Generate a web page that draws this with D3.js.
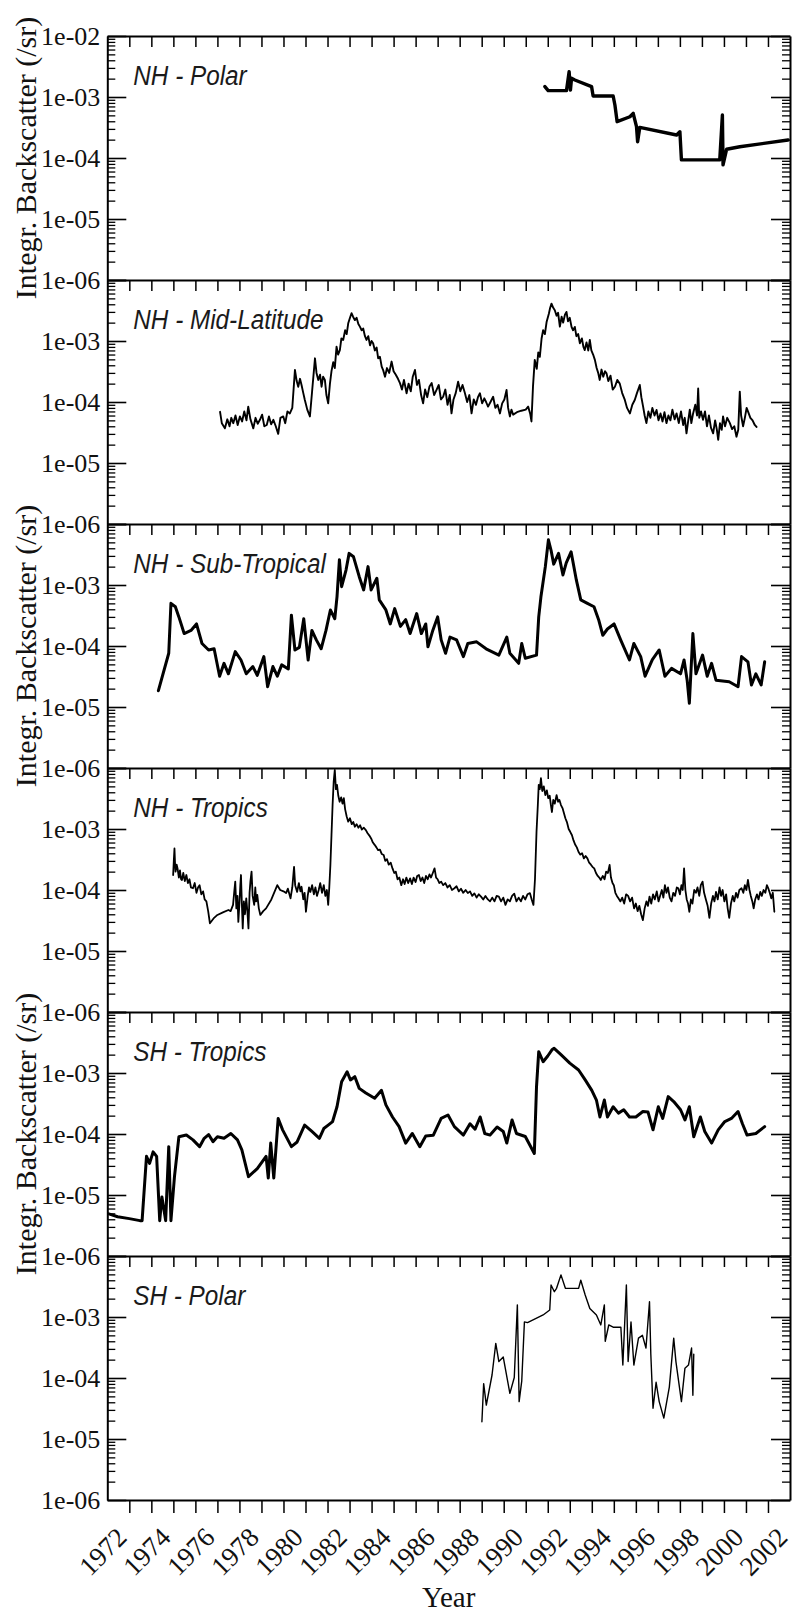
<!DOCTYPE html>
<html>
<head>
<meta charset="utf-8">
<script src="https://cdn.jsdelivr.net/npm/d3@7"></script>
<style>
  body { margin: 0; background: #ffffff; }
  svg { display: block; }
</style>
</head>
<body>
<svg id="chart" width="794" height="1612"></svg>
<script>
// ---- Axis definitions -------------------------------------------------------
const yearTicks = d3.range(1972, 2002);          // one tick per year
const yearLabels = d3.range(1972, 2003, 2);      // labelled every two years
const decadeTicks = [1e-6, 1e-5, 1e-4, 1e-3, 1e-2];
const panelNames = ["NH - Polar", "NH - Mid-Latitude", "NH - Sub-Tropical",
                    "NH - Tropics", "SH - Tropics", "SH - Polar"];
const yTitle = "Integr. Backscatter (/sr)";
const xTitle = "Year";

// ---- Series: [decimal year, integrated backscatter (/sr)] -------------------
const nhPolar = [[1990.87,1.48e-3],[1991.02,1.27e-3],[1991.85,1.27e-3],[1991.97,2.6e-3],[1992.03,1.3e-3],[1992.08,2.03e-3],[1992.23,1.9e-3],[1992.99,1.48e-3],[1993.06,1.04e-3],[1993.97,1.04e-3],[1994.05,7.4e-4],[1994.15,3.94e-4],[1994.73,4.75e-4],[1994.88,5.4e-4],[1995.03,3.26e-4],[1995.08,1.85e-4],[1995.18,3.18e-4],[1996.85,2.38e-4],[1997.0,2.7e-4],[1997.07,9.3e-5],[1998.81,9.3e-5],[1998.93,5.07e-4],[1998.96,7.7e-5],[1999.12,1.39e-4],[1999.72,1.53e-4],[2001.91,1.97e-4]];

const nhMidLatitude = [[1976.12,6.9e-5],[1976.2,4.5e-5],[1976.34,3.7e-5],[1976.45,5.2e-5],[1976.55,4.0e-5],[1976.63,5.5e-5],[1976.72,4.5e-5],[1976.82,6.0e-5],[1976.92,4.2e-5],[1977.02,5.8e-5],[1977.12,4.8e-5],[1977.22,7.0e-5],[1977.32,5.0e-5],[1977.40,8.4e-5],[1977.5,5.2e-5],[1977.63,3.7e-5],[1977.73,5.5e-5],[1977.83,4.4e-5],[1977.93,5.1e-5],[1978.03,6.2e-5],[1978.13,4.0e-5],[1978.24,4.2e-5],[1978.34,5.8e-5],[1978.44,4.3e-5],[1978.54,5.1e-5],[1978.65,4.0e-5],[1978.76,3.0e-5],[1978.86,5.5e-5],[1978.99,5.8e-5],[1979.08,4.5e-5],[1979.18,7.0e-5],[1979.29,6.5e-5],[1979.40,8.0e-5],[1979.52,3.35e-4],[1979.6,2.2e-4],[1979.67,1.78e-4],[1979.75,2.4e-4],[1979.82,1.9e-4],[1979.9,1.4e-4],[1979.97,1.08e-4],[1980.08,7.5e-5],[1980.20,5.8e-5],[1980.3,1.5e-4],[1980.43,5.2e-4],[1980.5,3.0e-4],[1980.58,2.3e-4],[1980.66,2.8e-4],[1980.73,1.78e-4],[1980.8,2.6e-4],[1980.88,2.3e-4],[1980.95,1.3e-4],[1981.03,9.5e-5],[1981.11,2.0e-4],[1981.18,3.2e-4],[1981.26,4.5e-4],[1981.33,3.6e-4],[1981.41,8.1e-4],[1981.48,6.0e-4],[1981.56,7.1e-4],[1981.63,1.1e-3],[1981.71,1.04e-3],[1981.8,1.5e-3],[1981.87,1.3e-3],[1981.94,1.95e-3],[1982.02,2.4e-3],[1982.09,2.85e-3],[1982.16,2.5e-3],[1982.24,2.2e-3],[1982.32,2.4e-3],[1982.4,1.9e-3],[1982.47,1.72e-3],[1982.55,1.5e-3],[1982.62,1.6e-3],[1982.7,1.2e-3],[1982.77,1.04e-3],[1982.85,1.2e-3],[1982.93,8.5e-4],[1983.0,1.0e-3],[1983.07,9.2e-4],[1983.15,7.0e-4],[1983.23,7.8e-4],[1983.3,5.2e-4],[1983.38,5.5e-4],[1983.46,3.8e-4],[1983.53,3.3e-4],[1983.61,2.6e-4],[1983.7,3.6e-4],[1983.8,3.0e-4],[1983.91,4.6e-4],[1984.0,3.2e-4],[1984.1,2.8e-4],[1984.2,2.4e-4],[1984.29,2.04e-4],[1984.38,1.6e-4],[1984.47,2.3e-4],[1984.59,1.39e-4],[1984.68,2.0e-4],[1984.78,1.5e-4],[1984.87,2.6e-4],[1984.97,3.35e-4],[1985.06,1.9e-4],[1985.15,2.3e-4],[1985.25,1.3e-4],[1985.34,9.5e-5],[1985.43,1.6e-4],[1985.53,1.2e-4],[1985.63,1.8e-4],[1985.73,2.04e-4],[1985.84,1.3e-4],[1985.95,1.58e-4],[1986.05,1.9e-4],[1986.15,1.1e-4],[1986.25,1.22e-4],[1986.35,1.6e-4],[1986.45,9.0e-5],[1986.55,1.3e-4],[1986.63,6.5e-5],[1986.72,1.1e-4],[1986.82,1.4e-4],[1986.93,2.15e-4],[1987.03,1.5e-4],[1987.13,1.9e-4],[1987.24,1.39e-4],[1987.34,1.0e-4],[1987.44,1.3e-4],[1987.54,6.5e-5],[1987.64,1.1e-4],[1987.74,9.0e-5],[1987.83,1.2e-4],[1987.92,1.39e-4],[1988.02,9.5e-5],[1988.12,1.15e-4],[1988.2,1.0e-4],[1988.29,8.4e-5],[1988.4,1.0e-4],[1988.52,1.22e-4],[1988.62,8.0e-5],[1988.72,9.0e-5],[1988.83,6.5e-5],[1988.93,9.5e-5],[1989.03,1.1e-4],[1989.13,1.57e-4],[1989.2,8.0e-5],[1989.28,5.8e-5],[1989.35,7.5e-5],[1989.43,6.2e-5],[1989.6,6.8e-5],[1989.8,7.2e-5],[1990.0,7.5e-5],[1990.11,8.4e-5],[1990.2,6.5e-5],[1990.26,4.8e-5],[1990.33,1.8e-4],[1990.41,4.9e-4],[1990.5,3.5e-4],[1990.57,6.5e-4],[1990.64,5.5e-4],[1990.72,1.1e-3],[1990.79,1.5e-3],[1990.87,1.3e-3],[1990.95,2.07e-3],[1991.05,2.8e-3],[1991.1,3.4e-3],[1991.17,4.1e-3],[1991.25,3.5e-3],[1991.32,3.2e-3],[1991.4,2.6e-3],[1991.47,2.9e-3],[1991.55,1.72e-3],[1991.63,2.5e-3],[1991.7,2.0e-3],[1991.78,2.7e-3],[1991.85,3.0e-3],[1991.92,2.1e-3],[1992.0,2.4e-3],[1992.08,1.7e-3],[1992.15,1.5e-3],[1992.23,1.7e-3],[1992.3,1.2e-3],[1992.38,1.3e-3],[1992.46,9.2e-4],[1992.55,1.1e-3],[1992.62,8.0e-4],[1992.68,7.1e-4],[1992.76,9.5e-4],[1992.84,7.0e-4],[1992.91,1.04e-3],[1992.98,7.0e-4],[1993.06,6.0e-4],[1993.14,4.9e-4],[1993.22,3.6e-4],[1993.29,3.0e-4],[1993.36,2.3e-4],[1993.44,3.4e-4],[1993.52,2.6e-4],[1993.6,3.2e-4],[1993.67,2.95e-4],[1993.75,2.2e-4],[1993.85,2.7e-4],[1993.95,1.6e-4],[1994.05,1.78e-4],[1994.16,2.3e-4],[1994.27,2.0e-4],[1994.38,1.4e-4],[1994.5,1.08e-4],[1994.6,8.0e-5],[1994.73,6.5e-5],[1994.84,9.0e-5],[1994.95,1.08e-4],[1995.05,1.4e-4],[1995.18,1.9e-4],[1995.25,1.2e-4],[1995.33,8.4e-5],[1995.4,6.0e-5],[1995.48,4.5e-5],[1995.57,7.0e-5],[1995.66,5.5e-5],[1995.75,8.0e-5],[1995.85,6.0e-5],[1995.94,7.4e-5],[1996.03,5.0e-5],[1996.12,6.5e-5],[1996.21,4.8e-5],[1996.3,6.8e-5],[1996.39,4.5e-5],[1996.48,6.0e-5],[1996.57,5.0e-5],[1996.66,7.5e-5],[1996.76,5.2e-5],[1996.85,6.5e-5],[1996.95,4.5e-5],[1997.05,7.0e-5],[1997.15,4.2e-5],[1997.22,5.5e-5],[1997.30,3.06e-5],[1997.38,5.0e-5],[1997.45,7.5e-5],[1997.52,4.5e-5],[1997.6,6.5e-5],[1997.7,9.0e-5],[1997.78,6.0e-5],[1997.83,1.67e-4],[1997.88,5.5e-5],[1997.96,7.0e-5],[1998.05,5.1e-5],[1998.14,7.0e-5],[1998.23,4.0e-5],[1998.32,6.0e-5],[1998.41,3.8e-5],[1998.51,3.06e-5],[1998.6,5.0e-5],[1998.68,3.5e-5],[1998.74,2.4e-5],[1998.82,4.5e-5],[1998.9,3.5e-5],[1998.96,5.8e-5],[1999.05,4.0e-5],[1999.15,5.5e-5],[1999.27,4.5e-5],[1999.37,3.6e-5],[1999.47,4.0e-5],[1999.57,2.7e-5],[1999.65,3.5e-5],[1999.72,1.48e-4],[1999.78,6.0e-5],[1999.87,4.0e-5],[1999.95,5.5e-5],[2000.03,8.0e-5],[2000.10,6.9e-5],[2000.2,5.5e-5],[2000.3,5.0e-5],[2000.4,4.2e-5],[2000.48,3.9e-5]];

const nhSubTropical = [[1973.32,1.85e-5],[1973.79,7.6e-5],[1973.89,5.0e-4],[1974.09,4.4e-4],[1974.25,3.0e-4],[1974.49,1.6e-4],[1974.80,1.8e-4],[1975.05,2.3e-4],[1975.30,1.1e-4],[1975.60,8.6e-5],[1975.85,9.0e-5],[1976.10,3.2e-5],[1976.30,5.2e-5],[1976.50,3.5e-5],[1976.81,8.1e-5],[1977.07,5.9e-5],[1977.31,3.5e-5],[1977.61,4.6e-5],[1977.81,3.3e-5],[1978.11,6.7e-5],[1978.28,2.15e-5],[1978.52,4.6e-5],[1978.72,3.2e-5],[1978.92,4.9e-5],[1979.22,4.2e-5],[1979.36,3.2e-4],[1979.52,8.6e-5],[1979.72,9.5e-5],[1979.92,2.8e-4],[1980.12,5.9e-5],[1980.29,1.8e-4],[1980.49,1.26e-4],[1980.71,9.0e-5],[1980.93,1.8e-4],[1981.13,3.9e-4],[1981.33,2.8e-4],[1981.43,6.4e-4],[1981.54,2.6e-3],[1981.64,9.4e-4],[1981.84,1.76e-3],[1981.98,3.3e-3],[1982.18,2.9e-3],[1982.44,1.37e-3],[1982.64,8.3e-4],[1982.84,2.0e-3],[1982.98,8.3e-4],[1983.24,1.29e-3],[1983.35,5.7e-4],[1983.65,3.9e-4],[1983.85,2.3e-4],[1984.05,4.1e-4],[1984.31,2.1e-4],[1984.55,2.7e-4],[1984.75,1.6e-4],[1985.05,3.4e-4],[1985.26,1.6e-4],[1985.46,2.3e-4],[1985.56,9.7e-5],[1985.78,1.8e-4],[1986.00,3.0e-4],[1986.16,1.26e-4],[1986.36,7.6e-5],[1986.56,1.4e-4],[1986.86,1.26e-4],[1987.17,6.7e-5],[1987.37,1.1e-4],[1987.77,1.17e-4],[1988.20,9.0e-5],[1988.78,7.1e-5],[1989.14,1.4e-4],[1989.28,7.6e-5],[1989.68,5.2e-5],[1989.82,1.1e-4],[1989.98,6.3e-5],[1990.49,7.1e-5],[1990.59,3.0e-4],[1990.69,6.4e-4],[1990.89,2.0e-3],[1991.03,5.5e-3],[1991.15,3.7e-3],[1991.27,2.2e-3],[1991.49,3.3e-3],[1991.69,1.46e-3],[1991.84,2.3e-3],[1992.06,3.5e-3],[1992.30,1.2e-3],[1992.50,5.7e-4],[1992.80,5.0e-4],[1993.10,4.4e-4],[1993.31,2.7e-4],[1993.50,1.5e-4],[1993.71,1.9e-4],[1994.01,2.3e-4],[1994.31,1.26e-4],[1994.71,5.9e-5],[1994.91,1.1e-4],[1995.22,6.7e-5],[1995.42,3.2e-5],[1995.75,6.0e-5],[1996.06,8.6e-5],[1996.32,3.2e-5],[1996.62,4.3e-5],[1997.03,3.5e-5],[1997.19,5.9e-5],[1997.33,2.75e-5],[1997.43,1.15e-5],[1997.59,1.6e-4],[1997.73,3.5e-5],[1998.03,7.1e-5],[1998.24,3.2e-5],[1998.44,5.2e-5],[1998.64,2.75e-5],[1999.24,2.6e-5],[1999.64,2.15e-5],[1999.80,6.7e-5],[2000.09,5.5e-5],[2000.25,2.3e-5],[2000.45,3.5e-5],[2000.69,2.3e-5],[2000.85,5.5e-5]];

const nhTropics = [[1973.99,1.76e-4],[1974.02,3.0e-4],[1974.05,4.8e-4],[1974.08,2.5e-4],[1974.10,2.0e-4],[1974.15,2.6e-4],[1974.19,2.26e-4],[1974.25,1.6e-4],[1974.3,2.1e-4],[1974.35,1.5e-4],[1974.39,1.46e-4],[1974.45,1.9e-4],[1974.52,1.4e-4],[1974.59,1.76e-4],[1974.66,1.3e-4],[1974.73,1.5e-4],[1974.8,1.1e-4],[1974.89,1.07e-4],[1974.97,1.3e-4],[1975.05,9.0e-5],[1975.12,1.1e-4],[1975.19,1.2e-4],[1975.27,8.5e-5],[1975.35,9.5e-5],[1975.42,7.0e-5],[1975.50,6.5e-5],[1975.58,4.5e-5],[1975.66,2.85e-5],[1975.85,3.5e-5],[1976.00,3.9e-5],[1976.25,4.3e-5],[1976.50,4.7e-5],[1976.6,4.5e-5],[1976.71,5.7e-5],[1976.76,9.0e-5],[1976.81,1.37e-4],[1976.86,5.0e-5],[1976.91,8.0e-5],[1976.95,3.0e-5],[1977.0,6.0e-5],[1977.04,1.2e-4],[1977.07,1.76e-4],[1977.11,6.0e-5],[1977.15,2.35e-5],[1977.2,6.5e-5],[1977.25,4.0e-5],[1977.31,7.3e-5],[1977.36,4.5e-5],[1977.41,2.35e-5],[1977.46,9.0e-5],[1977.5,1.4e-4],[1977.55,2.0e-4],[1977.6,8.0e-5],[1977.67,5.7e-5],[1977.72,1.1e-4],[1977.76,6.5e-5],[1977.81,8.3e-5],[1977.88,5.0e-5],[1977.95,3.9e-5],[1978.08,4.5e-5],[1978.21,5.0e-5],[1978.45,7.0e-5],[1978.72,1.2e-4],[1978.85,1.0e-4],[1979.0,9.5e-5],[1979.12,8.9e-5],[1979.2,1.05e-4],[1979.32,7.3e-5],[1979.4,1.1e-4],[1979.48,2.4e-4],[1979.53,1.2e-4],[1979.62,9.3e-5],[1979.7,1.3e-4],[1979.77,9.5e-5],[1979.82,1.13e-4],[1979.9,7.0e-5],[1979.96,9.0e-5],[1980.02,4.4e-5],[1980.1,8.0e-5],[1980.16,1.1e-4],[1980.22,9.3e-5],[1980.3,1.2e-4],[1980.38,8.5e-5],[1980.45,1.1e-4],[1980.52,8.0e-5],[1980.6,1.0e-4],[1980.67,1.3e-4],[1980.75,9.0e-5],[1980.83,1.2e-4],[1980.9,8.0e-5],[1980.97,1.0e-4],[1981.03,5.7e-5],[1981.08,1.1e-4],[1981.13,2.57e-4],[1981.18,8.0e-4],[1981.23,2.47e-3],[1981.28,6.0e-3],[1981.33,9.3e-3],[1981.38,4.5e-3],[1981.43,5.3e-3],[1981.49,3.5e-3],[1981.55,2.8e-3],[1981.62,3.3e-3],[1981.68,2.6e-3],[1981.74,3.2e-3],[1981.8,2.1e-3],[1981.87,1.6e-3],[1981.94,1.32e-3],[1982.02,1.5e-3],[1982.1,1.2e-3],[1982.17,1.3e-3],[1982.24,1.09e-3],[1982.32,1.2e-3],[1982.4,1.05e-3],[1982.48,1.15e-3],[1982.56,9.8e-4],[1982.65,1.05e-3],[1982.74,9.6e-4],[1982.82,8.5e-4],[1982.9,7.8e-4],[1982.98,7.0e-4],[1983.06,6.0e-4],[1983.14,5.5e-4],[1983.22,5.0e-4],[1983.3,4.5e-4],[1983.38,4.6e-4],[1983.46,3.9e-4],[1983.55,3.75e-4],[1983.62,3.0e-4],[1983.7,3.2e-4],[1983.78,2.6e-4],[1983.87,2.8e-4],[1983.95,2.26e-4],[1984.03,1.9e-4],[1984.1,2.0e-4],[1984.18,1.5e-4],[1984.26,1.6e-4],[1984.35,1.2e-4],[1984.43,1.5e-4],[1984.5,1.25e-4],[1984.58,1.6e-4],[1984.66,1.3e-4],[1984.75,1.55e-4],[1984.83,1.25e-4],[1984.91,1.6e-4],[1985.0,1.35e-4],[1985.07,1.7e-4],[1985.15,1.76e-4],[1985.23,1.4e-4],[1985.31,1.6e-4],[1985.39,1.3e-4],[1985.47,1.7e-4],[1985.55,1.5e-4],[1985.63,1.8e-4],[1985.7,1.6e-4],[1985.78,1.9e-4],[1985.86,2.26e-4],[1985.93,1.6e-4],[1986.0,1.5e-4],[1986.08,1.3e-4],[1986.16,1.37e-4],[1986.25,1.2e-4],[1986.35,1.3e-4],[1986.45,1.1e-4],[1986.55,1.2e-4],[1986.65,1.0e-4],[1986.76,1.07e-4],[1986.86,1.15e-4],[1986.96,9.5e-5],[1987.06,1.05e-4],[1987.16,9.0e-5],[1987.27,1.0e-4],[1987.37,8.9e-5],[1987.47,9.5e-5],[1987.57,8.0e-5],[1987.67,8.8e-5],[1987.77,7.5e-5],[1987.87,8.5e-5],[1987.97,7.8e-5],[1988.07,7.0e-5],[1988.17,8.0e-5],[1988.28,7.0e-5],[1988.38,6.5e-5],[1988.48,7.5e-5],[1988.58,6.5e-5],[1988.68,8.0e-5],[1988.78,7.8e-5],[1988.88,6.5e-5],[1988.98,7.5e-5],[1989.08,5.7e-5],[1989.18,7.0e-5],[1989.28,6.5e-5],[1989.38,8.0e-5],[1989.48,8.7e-5],[1989.58,6.5e-5],[1989.68,7.5e-5],[1989.78,6.5e-5],[1989.88,8.0e-5],[1989.98,7.0e-5],[1990.08,8.5e-5],[1990.19,8.9e-5],[1990.27,7.0e-5],[1990.35,5.7e-5],[1990.42,1.5e-4],[1990.49,9.0e-4],[1990.55,2.5e-3],[1990.59,5.3e-3],[1990.64,4.5e-3],[1990.69,6.8e-3],[1990.75,4.2e-3],[1990.82,5.0e-3],[1990.89,3.6e-3],[1990.96,4.3e-3],[1991.02,3.2e-3],[1991.09,3.5e-3],[1991.14,2.5e-3],[1991.19,1.9e-3],[1991.25,3.0e-3],[1991.32,2.6e-3],[1991.40,3.6e-3],[1991.47,2.8e-3],[1991.53,3.0e-3],[1991.60,2.47e-3],[1991.67,2.2e-3],[1991.74,1.8e-3],[1991.80,1.5e-3],[1991.87,1.3e-3],[1991.95,1.0e-3],[1992.02,9.0e-4],[1992.10,7.9e-4],[1992.17,6.5e-4],[1992.25,5.5e-4],[1992.32,5.0e-4],[1992.40,4.2e-4],[1992.48,3.8e-4],[1992.56,4.0e-4],[1992.64,3.3e-4],[1992.72,3.6e-4],[1992.80,3.3e-4],[1992.88,2.8e-4],[1992.96,2.6e-4],[1993.03,2.4e-4],[1993.11,2.26e-4],[1993.19,1.9e-4],[1993.27,1.7e-4],[1993.34,1.6e-4],[1993.41,1.46e-4],[1993.5,1.7e-4],[1993.58,1.5e-4],[1993.65,2.0e-4],[1993.73,1.9e-4],[1993.81,2.57e-4],[1993.87,1.6e-4],[1993.94,1.3e-4],[1994.00,1.2e-4],[1994.07,9.0e-5],[1994.14,8.0e-5],[1994.21,7.3e-5],[1994.3,6.5e-5],[1994.38,7.5e-5],[1994.47,6.0e-5],[1994.56,8.5e-5],[1994.65,8.0e-5],[1994.74,6.5e-5],[1994.83,7.5e-5],[1994.92,5.0e-5],[1995.0,6.0e-5],[1995.08,4.5e-5],[1995.16,5.5e-5],[1995.24,4.0e-5],[1995.32,3.2e-5],[1995.4,5.0e-5],[1995.48,6.5e-5],[1995.55,5.5e-5],[1995.62,7.8e-5],[1995.7,6.0e-5],[1995.78,8.5e-5],[1995.86,7.0e-5],[1995.95,9.5e-5],[1996.03,6.5e-5],[1996.1,8.0e-5],[1996.18,1.0e-4],[1996.25,7.5e-5],[1996.32,1.2e-4],[1996.39,9.0e-5],[1996.46,1.1e-4],[1996.54,7.5e-5],[1996.62,6.5e-5],[1996.7,9.0e-5],[1996.78,8.0e-5],[1996.86,1.1e-4],[1996.93,1.07e-4],[1997.0,8.5e-5],[1997.07,1.2e-4],[1997.13,1.0e-4],[1997.19,2.26e-4],[1997.25,1.0e-4],[1997.31,7.0e-5],[1997.37,6.0e-5],[1997.43,4.4e-5],[1997.5,7.0e-5],[1997.57,6.0e-5],[1997.65,1.0e-4],[1997.73,9.0e-5],[1997.8,1.1e-4],[1997.88,8.0e-5],[1997.95,1.2e-4],[1998.03,1.37e-4],[1998.1,9.0e-5],[1998.18,7.0e-5],[1998.26,5.5e-5],[1998.34,3.5e-5],[1998.42,6.0e-5],[1998.5,8.0e-5],[1998.57,6.5e-5],[1998.64,9.3e-5],[1998.72,7.0e-5],[1998.8,1.1e-4],[1998.87,8.0e-5],[1998.94,1.0e-4],[1999.02,6.5e-5],[1999.1,8.5e-5],[1999.17,5.0e-5],[1999.24,3.5e-5],[1999.32,6.0e-5],[1999.4,8.0e-5],[1999.47,6.5e-5],[1999.55,9.0e-5],[1999.62,7.5e-5],[1999.7,1.0e-4],[1999.8,1.07e-4],[1999.88,9.0e-5],[1999.95,1.2e-4],[2000.02,1.0e-4],[2000.09,1.46e-4],[2000.16,1.0e-4],[2000.22,8.0e-5],[2000.29,6.5e-5],[2000.35,5.0e-5],[2000.42,7.0e-5],[2000.5,8.5e-5],[2000.57,7.0e-5],[2000.65,9.3e-5],[2000.72,8.0e-5],[2000.8,1.0e-4],[2000.88,9.0e-5],[2000.95,1.2e-4],[2001.02,1.05e-4],[2001.08,9.0e-5],[2001.15,7.3e-5],[2001.22,9.0e-5],[2001.29,4.4e-5]];

const shTropics = [[1971.07,4.9e-6],[1971.47,4.4e-6],[1972.00,4.1e-6],[1972.48,3.8e-6],[1972.58,3.8e-6],[1972.78,4.3e-5],[1972.92,3.3e-5],[1973.08,5.1e-5],[1973.24,4.3e-5],[1973.38,3.8e-6],[1973.48,9.3e-6],[1973.65,3.8e-6],[1973.79,6.2e-5],[1973.89,3.8e-6],[1974.05,2.0e-5],[1974.25,9.0e-5],[1974.59,9.6e-5],[1974.89,8.0e-5],[1975.19,6.2e-5],[1975.40,8.5e-5],[1975.60,9.8e-5],[1975.80,7.5e-5],[1976.00,9.0e-5],[1976.30,8.5e-5],[1976.61,1.02e-4],[1976.91,8.0e-5],[1977.11,5.5e-5],[1977.41,2.0e-5],[1977.81,2.7e-5],[1978.21,4.3e-5],[1978.31,1.9e-5],[1978.42,7.1e-5],[1978.56,1.9e-5],[1978.76,1.8e-4],[1978.96,1.17e-4],[1979.36,6.2e-5],[1979.62,7.4e-5],[1979.96,1.4e-4],[1980.29,1.1e-4],[1980.63,8.5e-5],[1980.83,1.23e-4],[1981.03,1.4e-4],[1981.23,1.6e-4],[1981.43,2.8e-4],[1981.64,7.2e-4],[1981.89,1.05e-3],[1982.04,7.7e-4],[1982.24,8.7e-4],[1982.44,5.6e-4],[1982.74,4.7e-4],[1983.14,3.85e-4],[1983.45,5.2e-4],[1983.65,3.0e-4],[1983.95,1.9e-4],[1984.25,1.32e-4],[1984.55,7.1e-5],[1984.85,1.02e-4],[1985.19,6.2e-5],[1985.46,9.3e-5],[1985.80,9.5e-5],[1986.16,1.8e-4],[1986.47,2.05e-4],[1986.76,1.32e-4],[1987.17,9.6e-5],[1987.47,1.47e-4],[1987.70,1.2e-4],[1987.93,1.9e-4],[1988.14,1.02e-4],[1988.38,9.6e-5],[1988.70,1.3e-4],[1988.98,1.1e-4],[1989.14,7.1e-5],[1989.38,1.7e-4],[1989.58,1.02e-4],[1989.98,9.1e-5],[1990.39,4.8e-5],[1990.49,6.0e-4],[1990.59,2.24e-3],[1990.79,1.53e-3],[1991.00,1.9e-3],[1991.19,2.4e-3],[1991.29,2.54e-3],[1991.60,2.0e-3],[1992.00,1.45e-3],[1992.40,1.12e-3],[1992.70,7.7e-4],[1993.00,5.2e-4],[1993.21,3.6e-4],[1993.37,1.9e-4],[1993.57,3.6e-4],[1993.71,1.9e-4],[1993.97,2.8e-4],[1994.21,2.2e-4],[1994.45,2.5e-4],[1994.71,1.9e-4],[1995.00,1.9e-4],[1995.32,2.34e-4],[1995.55,2.3e-4],[1995.78,1.17e-4],[1996.02,2.8e-4],[1996.22,1.8e-4],[1996.47,4.1e-4],[1996.72,3.4e-4],[1997.03,2.5e-4],[1997.23,1.7e-4],[1997.43,2.8e-4],[1997.63,9.0e-5],[1997.93,1.9e-4],[1998.13,1.1e-4],[1998.44,7.1e-5],[1998.74,1.17e-4],[1999.04,1.6e-4],[1999.34,1.8e-4],[1999.64,2.34e-4],[1999.84,1.47e-4],[2000.05,9.6e-5],[2000.45,1.02e-4],[2000.85,1.32e-4]];

const shPolar = [[1988.01,1.92e-5],[1988.09,8.1e-5],[1988.21,3.6e-5],[1988.47,1.12e-4],[1988.64,3.7e-4],[1988.78,1.86e-4],[1988.98,2.2e-4],[1989.28,5.6e-5],[1989.48,1.02e-4],[1989.62,1.58e-3],[1989.70,4.1e-5],[1989.82,9.0e-5],[1989.94,8.3e-4],[1990.08,8.1e-4],[1990.79,1.08e-3],[1991.09,1.3e-3],[1991.15,3.35e-3],[1991.30,2.6e-3],[1991.40,2.95e-3],[1991.60,4.9e-3],[1991.80,2.95e-3],[1992.40,2.95e-3],[1992.50,4.0e-3],[1992.70,2.3e-3],[1992.91,1.38e-3],[1993.21,1.08e-3],[1993.41,7.4e-4],[1993.57,1.58e-3],[1993.61,4.0e-4],[1993.77,7.4e-4],[1993.97,6.8e-4],[1994.32,6.8e-4],[1994.41,1.63e-4],[1994.57,3.35e-3],[1994.65,1.86e-4],[1994.78,8.3e-4],[1994.91,1.63e-4],[1995.12,4.5e-4],[1995.30,5.0e-4],[1995.46,3.1e-4],[1995.62,1.78e-3],[1995.68,2.45e-4],[1995.78,3.2e-5],[1995.92,8.5e-5],[1996.06,4.1e-5],[1996.27,2.2e-5],[1996.52,7.1e-5],[1996.72,4.5e-4],[1996.82,1.86e-4],[1997.07,4.1e-5],[1997.23,1.45e-4],[1997.39,1.63e-4],[1997.53,3.1e-4],[1997.59,5.2e-5],[1997.63,2.45e-4]];

// ---- Layout -----------------------------------------------------------------
const plotLeft = 107.3, plotRight = 790;
const firstTop = 36, panelH = 244;
const serif = "'Liberation Serif', 'Times New Roman', serif";
const sans = "'Liberation Sans', Arial, Helvetica, sans-serif";

const panels = [
  { name: panelNames[0], data: nhPolar,       width: 3.4 },
  { name: panelNames[1], data: nhMidLatitude, width: 1.9 },
  { name: panelNames[2], data: nhSubTropical, width: 3.0 },
  { name: panelNames[3], data: nhTropics,     width: 1.8 },
  { name: panelNames[4], data: shTropics,     width: 3.0 },
  { name: panelNames[5], data: shPolar,       width: 1.4 }
];

const svg = d3.select("#chart");
svg.append("rect").attr("width", 794).attr("height", 1612).attr("fill", "#ffffff");

const x = d3.scaleLinear().domain([1971, 2002]).range([plotLeft, plotRight]);

const minorTicks = [];
[1e-6, 1e-5, 1e-4, 1e-3].forEach(d => { for (let k = 2; k <= 9; k++) minorTicks.push(d * k); });

const fmtExp = v => "1e-0" + Math.round(-Math.log10(v));

function styleAxis(g, tickWidth) {
  g.selectAll(".domain").attr("stroke", "#000").attr("stroke-width", 2);
  g.selectAll(".tick line").attr("stroke", "#000").attr("stroke-width", tickWidth);
}

panels.forEach((p, i) => {
  const top = firstTop + i * panelH;
  const bottom = top + panelH;
  const y = d3.scaleLog().domain([1e-6, 1e-2]).range([bottom, top]);
  const g = svg.append("g").attr("class", "panel");

  // clip region for the series
  svg.append("clipPath").attr("id", "clip" + i)
    .append("rect")
    .attr("x", plotLeft).attr("y", top)
    .attr("width", plotRight - plotLeft).attr("height", panelH);

  // series line
  const line = d3.line().x(d => x(d[0])).y(d => y(d[1]));
  g.append("path")
    .datum(p.data)
    .attr("clip-path", `url(#clip${i})`)
    .attr("d", line)
    .attr("fill", "none")
    .attr("stroke", "#000")
    .attr("stroke-width", p.width)
    .attr("stroke-linejoin", "round")
    .attr("stroke-linecap", "round");

  // panel title
  g.append("text")
    .attr("transform", `translate(${plotLeft + 26},${top + 49}) scale(0.9,1)`)
    .attr("font-family", sans)
    .attr("font-style", "italic")
    .attr("font-size", 27)
    .attr("fill", "#1a1a1a")
    .text(p.name);

  // left axis: major ticks (inward) with labels
  const leftMajor = g.append("g").attr("transform", `translate(${plotLeft},0)`)
    .call(d3.axisLeft(y).tickValues(decadeTicks)
      .tickSizeInner(-19).tickSizeOuter(0).tickPadding(7)
      .tickFormat(v => (i === 0 || v < 1e-2) ? fmtExp(v) : ""));
  styleAxis(leftMajor, 1.6);
  leftMajor.selectAll("text")
    .attr("font-family", serif).attr("font-size", 26).attr("fill", "#111")
    .attr("dy", "0.34em");

  // left axis: minor ticks
  const leftMinor = g.append("g").attr("transform", `translate(${plotLeft},0)`)
    .call(d3.axisLeft(y).tickValues(minorTicks).tickSizeInner(-8).tickSizeOuter(0).tickFormat(""));
  leftMinor.select(".domain").remove();
  styleAxis(leftMinor, 1.3);

  // right axis: major + minor ticks pointing inward
  const rightMajor = g.append("g").attr("transform", `translate(${plotRight},0)`)
    .call(d3.axisRight(y).tickValues(decadeTicks).tickSizeInner(-19).tickSizeOuter(0).tickFormat(""));
  styleAxis(rightMajor, 1.6);
  const rightMinor = g.append("g").attr("transform", `translate(${plotRight},0)`)
    .call(d3.axisRight(y).tickValues(minorTicks).tickSizeInner(-8).tickSizeOuter(0).tickFormat(""));
  rightMinor.select(".domain").remove();
  styleAxis(rightMinor, 1.3);

  // top edge: one tick per year, pointing down into the panel
  const topAxis = g.append("g").attr("transform", `translate(0,${top})`)
    .call(d3.axisBottom(x).tickValues(yearTicks).tickSizeInner(11).tickSizeOuter(0).tickFormat(""));
  styleAxis(topAxis, 1.5);

  // y title on every other panel
  if (i % 2 === 0) {
    g.append("text")
      .attr("transform", `translate(36,${top + panelH / 2}) rotate(-90)`)
      .attr("text-anchor", "middle")
      .attr("font-family", serif)
      .attr("font-size", 30)
      .attr("fill", "#111")
      .text(yTitle);
  }

  // bottom axis of the last panel with year labels
  if (i === panels.length - 1) {
    const bottomAxis = g.append("g").attr("transform", `translate(0,${bottom})`)
      .call(d3.axisBottom(x).tickValues(yearTicks).tickSizeInner(13).tickSizeOuter(0).tickFormat(""));
    styleAxis(bottomAxis, 1.5);

    g.selectAll(".year-label").data(yearLabels).join("text")
      .attr("class", "year-label")
      .attr("transform", d => `translate(${x(d) - 1},${bottom + 39}) rotate(-45)`)
      .attr("text-anchor", "end")
      .attr("font-family", serif)
      .attr("font-size", 27)
      .attr("fill", "#111")
      .text(d => d);

    g.append("text")
      .attr("x", (plotLeft + plotRight) / 2)
      .attr("y", 1607)
      .attr("text-anchor", "middle")
      .attr("font-family", serif)
      .attr("font-size", 29)
      .attr("fill", "#111")
      .text(xTitle);
  }
});
</script>
</body>
</html>
